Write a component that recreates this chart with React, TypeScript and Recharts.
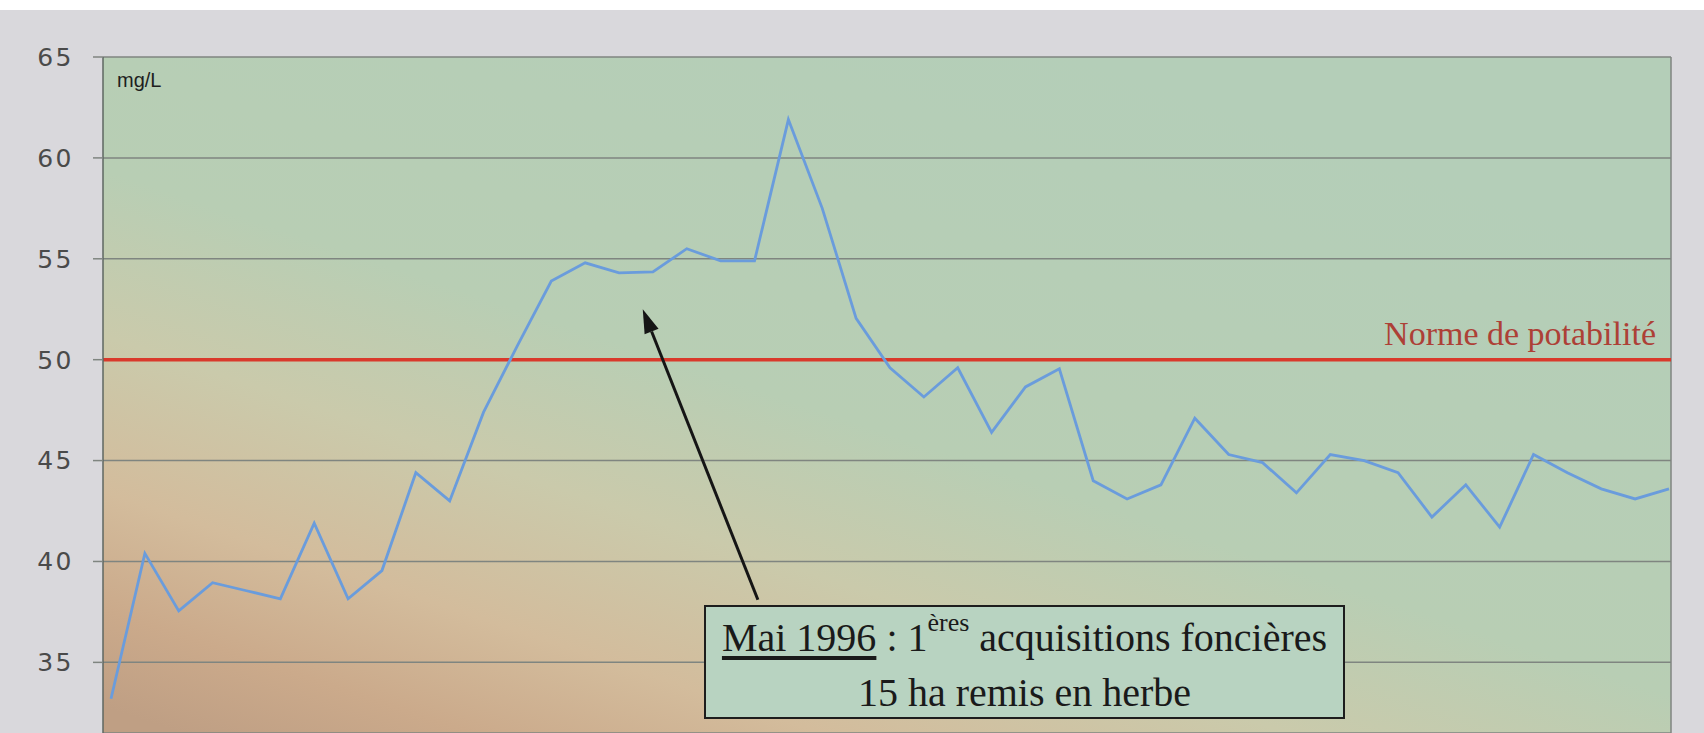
import React from 'react';
import { LineChart, Line, XAxis, YAxis, CartesianGrid, ReferenceLine } from 'recharts';

// sample number (one point per sampling period)
const samples = [
  1, 2, 3, 4, 5, 6, 7, 8, 9, 10, 11, 12, 13, 14, 15, 16, 17, 18, 19, 20, 21, 22, 23, 24,
  25, 26, 27, 28, 29, 30, 31, 32, 33, 34, 35, 36, 37, 38, 39, 40, 41, 42, 43, 44, 45, 46, 47,
];
// nitrate concentration, mg/L
const nitrates = [
  33.2, 40.4, 37.55, 38.95, 38.55, 38.15, 41.9, 38.15, 39.55, 44.4, 43.0, 47.4, 50.7, 53.9,
  54.8, 54.3, 54.35, 55.5, 54.9, 54.9, 61.9, 57.5, 52.05, 49.6, 48.15, 49.6, 46.4, 48.65,
  49.55, 44.0, 43.1, 43.8, 47.1, 45.3, 44.9, 43.4, 45.3, 45.0, 44.4, 42.2, 43.8, 41.7, 45.3,
  44.4, 43.6, 43.1, 43.6,
];
const yTicks = [35, 40, 45, 50, 55, 60, 65];
const norme = 50;
const normeLabel = 'Norme de potabilité';
const unitLabel = 'mg/L';
// arrow from the annotation box to the 1996 plateau (sample, value)
const arrowFrom = { x: 20.1, y: 38.1 };
const arrowTo = { x: 16.7, y: 52.5 };

const data = samples.map((s, i) => ({ s, v: nitrates[i] }));

const ArrowShape = (props: any) => {
  const { x1, y1, x2, y2 } = props;
  if ([x1, y1, x2, y2].some((n) => typeof n !== 'number' || isNaN(n))) return null;
  const ang = Math.atan2(y2 - y1, x2 - x1);
  const L = 24;
  const W = 7.5;
  const bx = x2 - L * Math.cos(ang);
  const by = y2 - L * Math.sin(ang);
  const px = -Math.sin(ang);
  const py = Math.cos(ang);
  const pts = `${x2},${y2} ${bx + W * px},${by + W * py} ${bx - W * px},${by - W * py}`;
  return (
    <g>
      <line x1={x1} y1={y1} x2={bx} y2={by} stroke="#151515" strokeWidth={3} />
      <polygon points={pts} fill="#151515" />
    </g>
  );
};

export default function App() {
  return (
    <div
      style={{
        position: 'absolute',
        left: 0,
        top: 0,
        width: 1704,
        height: 733,
        overflow: 'hidden',
        background: '#d9d8dc',
      }}
    >
      <div style={{ position: 'absolute', left: 0, top: 0, width: 1704, height: 10, background: '#ffffff' }} />
      <svg width={0} height={0} style={{ position: 'absolute' }}>
        <defs>
          <linearGradient id="plotBg" x1="0.75" y1="0.1" x2="0.05" y2="1">
            <stop offset="0" stopColor="#b4ceb8" />
            <stop offset="0.45" stopColor="#b8ceb4" />
            <stop offset="0.62" stopColor="#cacaab" />
            <stop offset="0.78" stopColor="#d3bc9c" />
            <stop offset="0.9" stopColor="#cbaa8b" />
            <stop offset="1" stopColor="#bf9f84" />
          </linearGradient>
        </defs>
      </svg>
      <LineChart
        width={1704}
        height={733}
        data={data}
        margin={{ top: 57, right: 33, bottom: 0, left: 0 }}
      >
        <CartesianGrid
          vertical={true}
          horizontal={true}
          fill="url(#plotBg)"
          fillOpacity={1}
          stroke="#7f8580"
          strokeWidth={1.5}
          verticalCoordinatesGenerator={({ offset }: any) => [offset.left + offset.width]}
        />
        <XAxis
          type="number"
          dataKey="s"
          domain={[1, 47]}
          hide
          padding={{ left: 8, right: 2 }}
        />
        <YAxis
          domain={[31.5, 65]}
          ticks={yTicks}
          width={103}
          interval={0}
          tickSize={10}
          tickMargin={19}
          axisLine={{ stroke: '#5e6762', strokeWidth: 1.5 }}
          tickLine={{ stroke: '#7f8580', strokeWidth: 1.5 }}
          tick={{ fill: '#4a4a4a', fontSize: 25, fontFamily: 'DejaVu Sans', letterSpacing: 2.5 }}
        />
        <ReferenceLine
          y={norme}
          stroke="#d9392b"
          strokeWidth={3.5}
          label={{
            value: normeLabel,
            position: 'insideBottomRight',
            offset: 15,
            fill: '#ad4036',
            fontSize: 34,
            fontFamily: 'Liberation Serif',
          }}
        />
        <Line
          type="linear"
          dataKey="v"
          stroke="#6a9cdc"
          strokeWidth={2.8}
          dot={false}
          activeDot={false}
          isAnimationActive={false}
        />
        <ReferenceLine segment={[arrowFrom, arrowTo]} shape={ArrowShape} />
      </LineChart>
      <div
        style={{
          position: 'absolute',
          left: 117,
          top: 70,
          fontFamily: 'Liberation Sans',
          fontSize: 20,
          lineHeight: '20px',
          color: '#1e1e1e',
        }}
      >
        {unitLabel}
      </div>
      <div
        style={{
          position: 'absolute',
          left: 704,
          top: 605,
          width: 641,
          height: 114,
          boxSizing: 'border-box',
          border: '2.5px solid #1d1d1d',
          background: '#b8d3c1',
          fontFamily: 'Liberation Serif',
          fontSize: 40,
          lineHeight: '50px',
          color: '#1a1a1a',
          textAlign: 'center',
          paddingTop: 6,
          whiteSpace: 'nowrap',
        }}
      >
        <div>
          <span style={{ textDecoration: 'underline', textUnderlineOffset: 5 }}>Mai 1996</span>
          {' : 1'}
          <span style={{ fontSize: 26, position: 'relative', top: -20 }}>ères</span>
          {' acquisitions foncières'}
        </div>
        <div>15 ha remis en herbe</div>
      </div>
    </div>
  );
}
